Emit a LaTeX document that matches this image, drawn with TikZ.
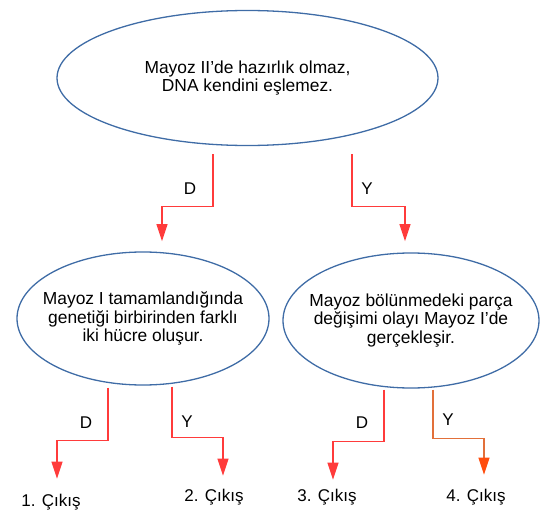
\documentclass[tikz,border=0pt]{standalone}
\usepackage{fontspec}
\setmainfont{Liberation Sans}
\usepackage{tikz}
\usetikzlibrary{arrows.meta,calc,positioning,shapes.geometric}
\definecolor{ellblue}{HTML}{3F6CA6}
\definecolor{arrred}{HTML}{FF3B3B}
\definecolor{arrorange}{HTML}{E2703A}
\definecolor{tiporange}{HTML}{FF4D0D}

\begin{document}
\begin{tikzpicture}[x=1pt,y=-1pt]
\tikzset{
  soru/.style={ellipse, draw=ellblue, line width=1.3pt, inner sep=0pt},
  metin/.style={align=center, inner sep=0pt, font=\fontsize{17.4}{18.8}\selectfont},
  yol/.style={draw=arrred, line width=1.3pt, -{Triangle[width=11pt,length=17pt]}},
  etiket/.style={inner sep=0pt, font=\fontsize{17}{19}\selectfont},
}
  \useasboundingbox (0,0) rectangle (542,522);

  % questions
  \node[soru, minimum width=381pt, minimum height=135pt] (mayoz) at (247.5,78) {};
  \node[metin] (mayozT) at (mayoz) {Mayoz II'de hazırlık olmaz,\\ DNA kendini eşlemez.};
  \node[soru, minimum width=252pt, minimum height=133pt] (tamam) at (143,318.5) {};
  \node[metin] (tamamT) at (tamam)
    {Mayoz I tamamlandığında\\ genetiği birbirinden farklı\\ iki hücre oluşur.};
  \node[soru, minimum width=256pt, minimum height=135pt] (parca) at (411,320.5) {};
  \node[metin] (parcaT) at (parca)
    {Mayoz bölünmedeki parça\\ değişimi olayı Mayoz I'de\\ gerçekleşir.};

  % exits
  \node[etiket] (cikisA) at (51,502) {1. Çıkış};
  \node[etiket] (cikisB) at (214,497) {2. Çıkış};
  \node[etiket] (cikisC) at (327,497) {3. Çıkış};
  \node[etiket] (cikisD) at (476,497) {4. Çıkış};

  % answers
  \node[etiket] (dA) at (190,189) {D};
  \node[etiket] (yA) at (367,189) {Y};
  \node[etiket] (dB) at (86,423) {D};
  \node[etiket] (yB) at (187,422) {Y};
  \node[etiket] (dC) at (362,423) {D};
  \node[etiket] (yC) at (448,420) {Y};

  \draw[yol] ([xshift=-34.5pt,yshift=-8pt]mayoz.south) |- ++(-51,52) -- ++(0,35);
  \draw[yol] ([xshift=104.5pt,yshift=-8pt]mayoz.south) |- ++(53,52) -- ++(0,35);

  \draw[yol] ([xshift=-35pt,yshift=-2pt]tamam.south) |- ++(-51,53) -- ++(0,38);
  \draw[yol] ([xshift=29pt,yshift=-1pt]tamam.south) |- ++(51,51) -- ++(0,38);

  \draw[yol] ([xshift=-27pt,yshift=-1pt]parca.south) |- ++(-51,52) -- ++(0,38);
  \draw[yol, draw=arrorange, -{Triangle[width=11pt,length=17pt,color=tiporange]}]
    ([xshift=22pt,yshift=-1pt]parca.south) |- ++(51,49) -- ++(0,36);
\end{tikzpicture}
\end{document}
